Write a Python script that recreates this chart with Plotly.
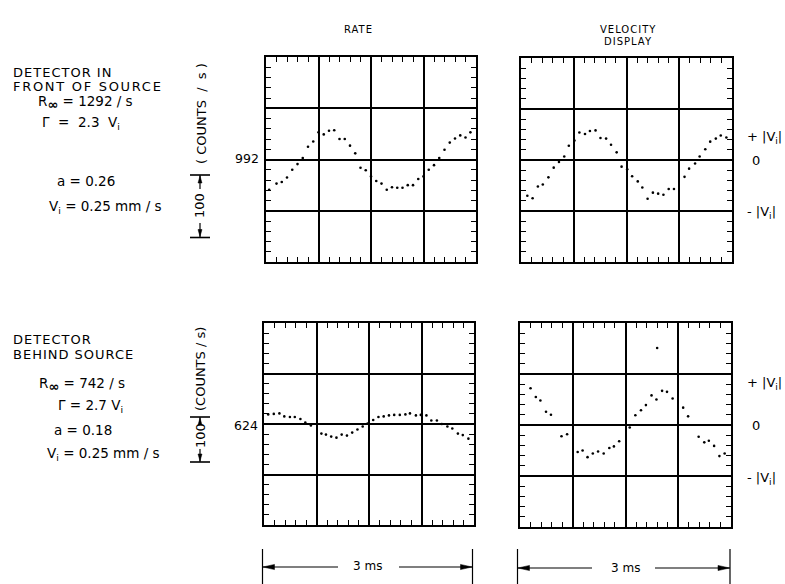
import plotly.graph_objects as go

W, H = 785, 584

# ---------------- data (time in ms, signal in oscilloscope divisions) ----------------
front_rate_t = [0.045, 0.15, 0.225, 0.3, 0.375, 0.45, 0.525, 0.6, 0.675, 0.75,
                0.825, 0.9, 0.975, 1.05, 1.125, 1.2, 1.275, 1.35, 1.425, 1.5,
                1.575, 1.65, 1.725, 1.8, 1.875, 1.95, 2.025, 2.1, 2.175, 2.25,
                2.325, 2.4, 2.475, 2.55, 2.625, 2.7, 2.775, 2.85, 2.92]
front_rate_y = [-0.59, -0.47, -0.44, -0.35, -0.20, -0.09, 0.03, 0.25, 0.35, 0.53,
                0.49, 0.56, 0.57, 0.40, 0.40, 0.27, 0.12, -0.16, -0.21, -0.33,
                -0.42, -0.47, -0.59, -0.54, -0.55, -0.55, -0.50, -0.50, -0.38, -0.33,
                -0.20, -0.11, 0.03, 0.19, 0.33, 0.41, 0.47, 0.43, 0.53]

front_vel_t = [0.09, 0.165, 0.24, 0.31, 0.39, 0.465, 0.54, 0.615, 0.68, 0.76,
               0.83, 0.91, 0.98, 1.06, 1.13, 1.21, 1.28, 1.36, 1.43, 1.51,
               1.58, 1.66, 1.725, 1.8, 1.875, 1.95, 2.025, 2.1, 2.175, 2.325,
               2.39, 2.475, 2.54, 2.62, 2.69, 2.77, 2.84, 2.92]
front_vel_y = [-0.70, -0.75, -0.52, -0.48, -0.34, -0.15, -0.04, 0.07, 0.28, 0.38,
               0.54, 0.51, 0.57, 0.58, 0.43, 0.42, 0.30, 0.15, -0.13, -0.18,
               -0.32, -0.42, -0.54, -0.76, -0.64, -0.66, -0.68, -0.57, -0.57, -0.33,
               -0.17, -0.07, 0.07, 0.21, 0.36, 0.42, 0.48, 0.44]

behind_rate_t = [0.06, 0.14, 0.22, 0.29, 0.37, 0.44, 0.52, 0.59, 0.67, 0.82,
                 0.885, 0.96, 1.035, 1.11, 1.185, 1.26, 1.335, 1.41, 1.48, 1.56,
                 1.635, 1.71, 1.785, 1.86, 1.94, 2.02, 2.085, 2.17, 2.24, 2.32,
                 2.39, 2.47, 2.54, 2.62, 2.69, 2.77, 2.84, 2.92]
behind_rate_y = [0.19, 0.20, 0.21, 0.15, 0.14, 0.14, 0.10, 0.03, -0.03, -0.19,
                 -0.21, -0.25, -0.27, -0.21, -0.23, -0.17, -0.11, -0.05, 0.01, 0.08,
                 0.14, 0.15, 0.17, 0.18, 0.18, 0.19, 0.21, 0.17, 0.18, 0.17,
                 0.07, 0.07, 0.0, -0.05, -0.09, -0.19, -0.22, -0.29]

behind_vel_t = [0.15, 0.225, 0.29, 0.37, 0.44, 0.59, 0.67, 0.82, 0.89, 0.96,
                1.035, 1.11, 1.19, 1.27, 1.335, 1.41, 1.56, 1.64, 1.72, 1.79,
                1.87, 1.94, 2.02, 2.09, 2.17, 2.32, 2.39, 2.54, 2.62, 2.685,
                2.76, 2.835, 2.91, 1.95]
behind_vel_y = [0.72, 0.55, 0.48, 0.26, 0.20, -0.22, -0.18, -0.53, -0.50, -0.63,
                -0.56, -0.52, -0.56, -0.45, -0.42, -0.32, -0.05, 0.19, 0.29, 0.39,
                0.58, 0.50, 0.67, 0.65, 0.52, 0.34, 0.17, -0.23, -0.34, -0.31,
                -0.41, -0.61, -0.56, 1.51]

rate_centres = ["992", "624"]
INF = "<sub><span style='font-size:13px'><b>∞</b></span></sub>"
front_params = ["R" + INF + " = 1292 / s", "Γ  =  2.3  V<sub>i</sub>",
                "a = 0.26", "V<sub>i</sub> = 0.25 mm / s"]
behind_params = ["R" + INF + " = 742 / s", "Γ = 2.7 V<sub>i</sub>",
                 "a = 0.18", "V<sub>i</sub> = 0.25 mm / s"]

FONT = "DejaVu Sans"


def px(x):
    return x / W


def py(y):
    return 1 - y / H


fig = go.Figure()

panels = [
    ("x", "y", front_rate_t, front_rate_y),
    ("x2", "y2", front_vel_t, front_vel_y),
    ("x3", "y3", behind_rate_t, behind_rate_y),
    ("x4", "y4", behind_vel_t, behind_vel_y),
]
for xa, ya, t, v in panels:
    fig.add_trace(go.Scatter(x=t, y=v, xaxis=xa, yaxis=ya, mode="markers",
                             marker=dict(size=2.6, color="black"),
                             hoverinfo="skip", showlegend=False))

# panel boxes in pixels: (left, right, top, bottom)
boxes = [(266, 476, 57, 262), (521, 732, 58, 262), (264, 474, 323, 525), (520, 731, 323, 527)]


def xax(b, anchor):
    return dict(domain=[px(b[0]), px(b[1])], anchor=anchor, range=[0, 3], tick0=0, dtick=0.75,
                showgrid=True, gridcolor="black", gridwidth=2, zeroline=False,
                showline=True, linecolor="black", linewidth=2, mirror="allticks",
                ticks="inside", ticklen=5, tickwidth=1, tickcolor="black", showticklabels=False,
                minor=dict(tick0=0, dtick=0.15, ticks="inside", ticklen=5, tickwidth=1,
                           tickcolor="black", showgrid=False),
                fixedrange=True)


def yax(b, anchor):
    return dict(domain=[py(b[3]), py(b[2])], anchor=anchor, range=[-2, 2], tick0=0, dtick=1,
                showgrid=True, gridcolor="black", gridwidth=2, zeroline=False,
                showline=True, linecolor="black", linewidth=2, mirror="allticks",
                ticks="inside", ticklen=5, tickwidth=1, tickcolor="black", showticklabels=False,
                minor=dict(tick0=0, dtick=0.2, ticks="inside", ticklen=5, tickwidth=1,
                           tickcolor="black", showgrid=False),
                fixedrange=True)


layout = dict(width=W, height=H, margin=dict(l=0, r=0, t=0, b=0),
              paper_bgcolor="white", plot_bgcolor="white", showlegend=False,
              font=dict(family=FONT, color="black"))
names = ["", "2", "3", "4"]
for n, b in zip(names, boxes):
    layout["xaxis" + n] = xax(b, "y" + n)
    layout["yaxis" + n] = yax(b, "x" + n)
fig.update_layout(**layout)

ann = []


def text(s, x, y, size=12, xanchor="center", angle=0):
    ann.append(dict(text=s, x=px(x), y=py(y), xref="paper", yref="paper", showarrow=False,
                    xanchor=xanchor, yanchor="middle", textangle=angle,
                    font=dict(family=FONT, size=size, color="black")))


def spaced(s, sp=1):
    return f"<span style='letter-spacing:{sp}px'>" + s + "</span>"


# column titles
text(spaced("RATE"), 358, 30, 10)
text(spaced("VELOCITY"), 628, 29, 10)
text(spaced("DISPLAY"), 628, 42, 10)

# left block: detector in front
text(spaced("DETECTOR IN"), 11, 72, 13, "left")
text(spaced("FRONT OF SOURCE", 1.7), 11, 87, 13, "left")
for s, (x, y) in zip(front_params, [(36, 102), (40, 123), (55, 181), (47, 207)]):
    text(s, x, y, 13.5, "left")

# left block: detector behind
text(spaced("DETECTOR"), 11, 339, 13, "left")
text(spaced("BEHIND SOURCE"), 11, 354, 13, "left")
for s, (x, y) in zip(behind_params, [(37, 384), (56, 406), (52, 430), (45, 454)]):
    text(s, x, y, 13.5, "left")

# rate centre values
text(rate_centres[0], 247, 158, 12.5)
text(rate_centres[1], 246, 425, 12.5)

# velocity labels
for yp, y0, ym in ((138, 160, 212), (383, 425, 478)):
    text("+ |V<sub>i</sub>|", 745, yp, 13, "left")
    text("0", 750, y0, 13, "left")
    text("- |V<sub>i</sub>|", 745, ym, 13, "left")

# vertical counts labels
text("( COUNTS  /  s )", 201, 114, 13, angle=-90)
text("100", 200, 206, 13, angle=-90)
text("(COUNTS / s)", 200, 369, 13, angle=-90)
text("100", 200, 436, 13, angle=-90)

# time labels
text("3 ms", 367, 566, 12)
text("3 ms", 625, 568, 12)

shapes = []


def seg(x0, y0, x1, y1, w=1.2):
    shapes.append(dict(type="line", xref="paper", yref="paper", x0=px(x0), y0=py(y0),
                       x1=px(x1), y1=py(y1), line=dict(color="black", width=w)))


def tri(pts):
    path = "M " + " L ".join(f"{px(a):.5f},{py(b):.5f}" for a, b in pts) + " Z"
    shapes.append(dict(type="path", xref="paper", yref="paper", path=path,
                       fillcolor="black", line=dict(color="black", width=0.5)))


# 3 ms arrows
for (xl, xr, gl, gr, ya) in [(262.5, 472.5, 338, 399, 567), (517.5, 730, 592, 655, 568)]:
    seg(xl, 549, xl, 584)
    seg(xr, 549, xr, 584)
    seg(xl, ya, gl, ya)
    seg(gr, ya, xr, ya)
    tri([(xl + 0.5, ya), (xl + 12, ya - 2.6), (xl + 12, ya + 2.6)])
    tri([(xr - 0.5, ya), (xr - 12, ya - 2.6), (xr - 12, ya + 2.6)])

# 100 brackets
for (yt, yb, g1, g2) in [(175, 237.5, 189, 223), (417, 462, 423, 449)]:
    seg(190, yt, 210, yt, 1.6)
    seg(190, yb, 210, yb, 1.6)
    seg(200, yt, 200, g1)
    seg(200, g2, 200, yb)
    tri([(200, yt + 1), (198, yt + 8), (202, yt + 8)])
    tri([(200, yb - 1), (198, yb - 8), (202, yb - 8)])

fig.update_layout(annotations=ann, shapes=shapes)

fig.write_html("out.html", config={"displayModeBar": False, "staticPlot": True},
               post_script="document.body.style.margin='0';document.body.style.padding='0';"
                           "document.documentElement.style.overflow='hidden';")
